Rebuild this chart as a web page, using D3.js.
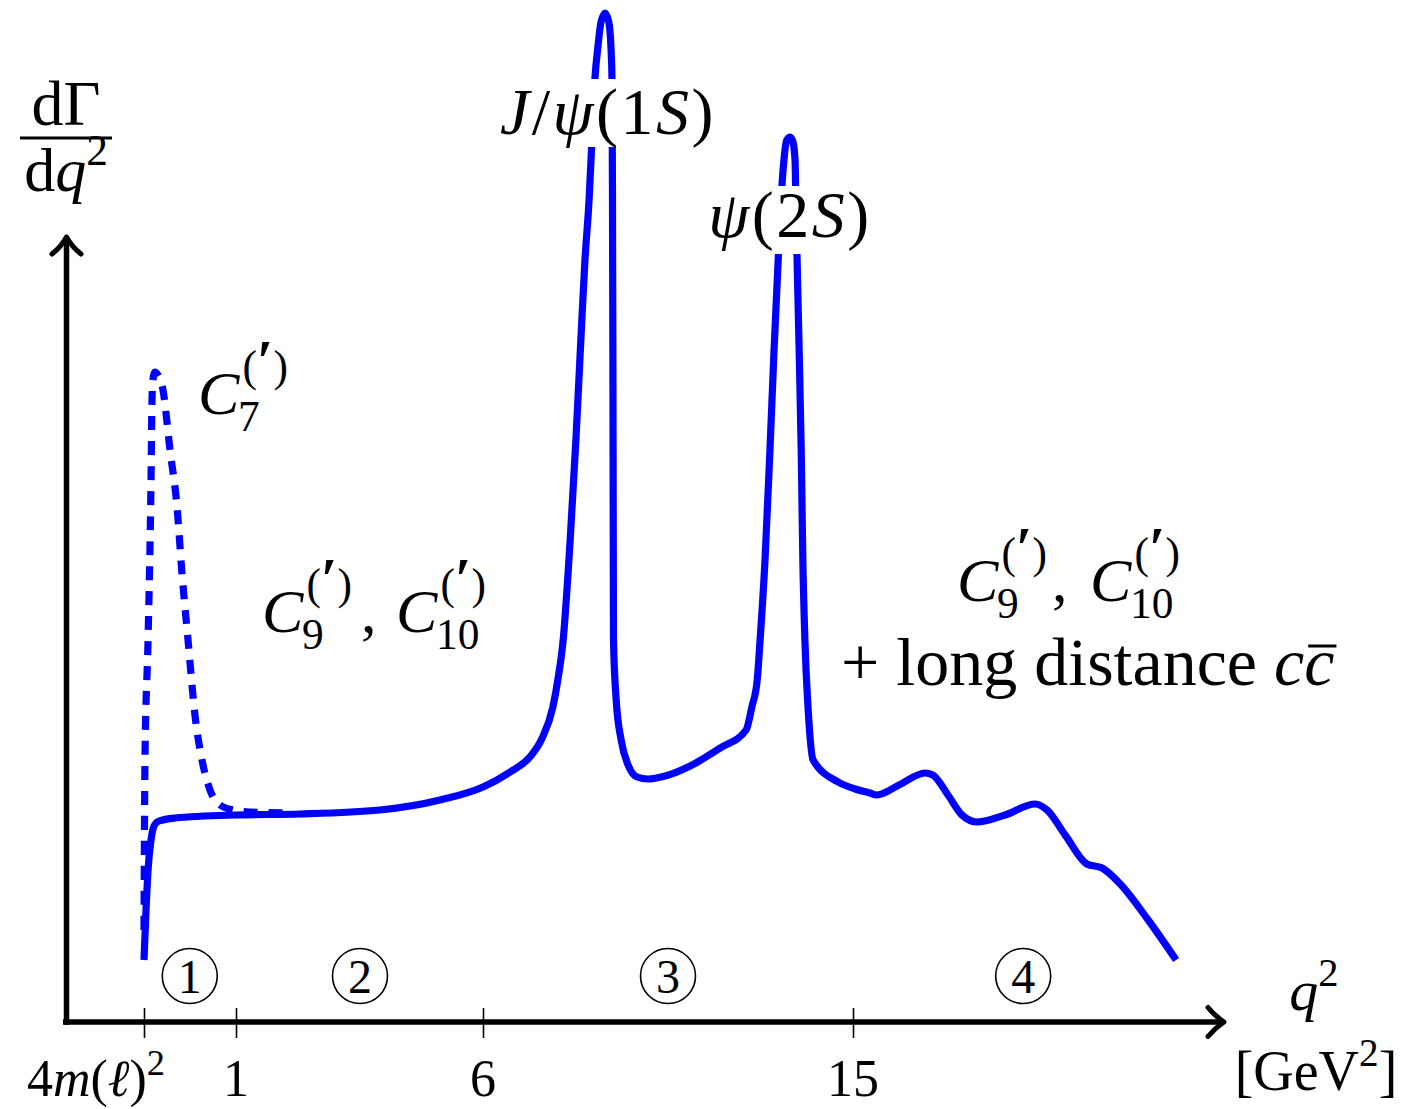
<!DOCTYPE html>
<html>
<head>
<meta charset="utf-8">
<script src="https://cdn.jsdelivr.net/npm/d3@7"></script>
<style>
  body { margin: 0; background: #fff; }
  text { font-family: "Liberation Serif", "Times New Roman", serif; fill: #000; }
</style>
</head>
<body>
<svg id="chart" width="1411" height="1109"></svg>
<script>
// q² tick marks (GeV²) and their labels
const tickValues = [0.045, 1, 6, 15];
const tickLabels = ["4m(ℓ)²", "1", "6", "15"];

// Full differential rate dΓ/dq² (arbitrary units) including the charmonium resonances
const solidQ2 = [0.045, 0.066, 0.087, 0.118, 0.149, 0.200, 0.367, 1.0, 2.30, 3.91, 5.13, 6.0, 6.66, 7.14,
  7.44, 7.70, 7.82, 7.95, 8.12, 8.26, 8.38, 8.48, 8.58, 8.65, 8.72, 8.80, 8.87, 8.97, 9.06, 9.11,
  9.138, 9.150, 9.162, 9.174, 9.24, 9.36, 9.53, 9.75, 10.01, 10.43, 11.04, 11.77, 12.40,
  12.54, 12.67, 12.74, 12.86, 12.98, 13.08, 13.18, 13.25, 13.32, 13.39, 13.47, 13.54, 13.59, 13.61,
  13.64, 13.69, 13.74, 13.78, 13.83, 13.91, 14.03,
  14.64, 15.05, 15.41, 15.58, 16.12, 16.75, 16.94, 17.31, 17.65, 18.02, 18.70, 19.43, 19.72,
  20.16, 20.69, 21.06, 21.50, 22.18, 22.86];
const solidRate = [6.2, 11.2, 15.2, 18.2, 19.6, 20.1, 20.4, 20.7, 20.8, 21.2, 22.2, 23.5, 25.0, 26.5,
  28.4, 31.5, 34.2, 38.2, 48.2, 58.2, 68.2, 76.2, 82.2, 88.2, 94.2, 97.7, 100.0, 100.9, 100.0, 97.7,
  94.2, 82.2, 62.2, 38.2, 32.2, 28.2, 25.7, 24.5, 24.3, 24.6, 25.6, 27.4, 29.2,
  31.5, 34.2, 38.2, 46.2, 57.2, 67.2, 76.2, 82.2, 86.2, 88.2, 88.5, 88.0, 86.2, 82.2,
  76.2, 67.2, 57.2, 46.2, 38.2, 31.2, 26.2,
  24.0, 23.3, 22.9, 22.7, 23.7, 24.9, 24.7, 22.7, 20.7, 20.0, 20.7, 21.8, 21.2,
  18.7, 15.8, 15.4, 13.8, 10.2, 6.2];

// Photon-pole (C7) enhancement at very low q²
const dashedQ2 = [0.045, 0.055, 0.087, 0.118, 0.128, 0.138, 0.159, 0.190, 0.242, 0.315, 0.388, 0.439,
  0.502, 0.574, 0.647, 0.730, 0.834, 0.969, 1.283, 1.992];
const dashedRate = [9.2, 26.2, 38.2, 54.2, 62.2, 64.2, 65.0, 64.7, 63.2, 57.2, 51.5, 44.9,
  38.2, 30.7, 26.2, 23.2, 21.7, 21.2, 21.0, 20.9];

// Numbered q² regions
const regionNames = ["1", "2", "3", "4"];
const regionQ2 = [0.52, 3.51, 10.5, 19.14];

const svg = d3.select("#chart");
const blue = "#0000ff";

const x = d3.scaleLinear().domain(tickValues).range([144, 236, 483, 853]);
const y = d3.scaleLinear().domain([0, 100]).range([1022, 22]);

const line = d3.line().x(d => x(d[0])).y(d => y(d[1])).curve(d3.curveMonotoneX);

// ---- curves ----
svg.append("path")
  .datum(dashedQ2.map((q, i) => [q, dashedRate[i]]))
  .attr("d", line)
  .attr("fill", "none").attr("stroke", blue).attr("stroke-width", 7.2)
  .attr("stroke-dasharray", "14,11");

svg.append("path")
  .datum(solidQ2.map((q, i) => [q, solidRate[i]]))
  .attr("d", line)
  .attr("fill", "none").attr("stroke", blue).attr("stroke-width", 7.2)
  .attr("stroke-linejoin", "round");

// ---- axes ----
const axisY = y(0);
const gx = svg.append("g").attr("transform", `translate(0,${axisY})`)
  .call(d3.axisBottom(x).tickValues(tickValues).tickSizeInner(16).tickSizeOuter(0).tickFormat(() => ""));
gx.select(".domain").remove();
gx.selectAll(".tick line").attr("y1", -14).attr("stroke", "#000").attr("stroke-width", 1.6);

svg.append("line").attr("x1", 63).attr("x2", 1220).attr("y1", axisY).attr("y2", axisY)
  .attr("stroke", "#000").attr("stroke-width", 5.5);
svg.append("line").attr("x1", 66.5).attr("x2", 66.5).attr("y1", axisY + 2.75).attr("y2", 240)
  .attr("stroke", "#000").attr("stroke-width", 5.5);
// arrow heads
svg.append("path").attr("d", "M52,254 Q61,247 66.5,237 Q72,247 81,254")
  .attr("fill", "none").attr("stroke", "#000").attr("stroke-width", 5).attr("stroke-linecap", "round").attr("stroke-linejoin", "round");
svg.append("path").attr("d", `M1208,${axisY - 14.5} Q1215,${axisY - 6} 1224,${axisY} Q1215,${axisY + 6} 1208,${axisY + 14.5}`)
  .attr("fill", "none").attr("stroke", "#000").attr("stroke-width", 5).attr("stroke-linecap", "round").attr("stroke-linejoin", "round");

// ---- helpers for math-like text ----
function mtext(parent, px, py, size, parts, anchor, spacing) {
  const t = parent.append("text").attr("x", px).attr("y", py).attr("font-size", size)
    .attr("text-anchor", anchor || "start");
  if (spacing) t.attr("letter-spacing", spacing);
  parts.forEach(p => {
    const s = t.append("tspan").text(p.t);
    if (p.i) s.attr("font-style", "italic");
    if (p.s) s.attr("font-size", size * p.s);
    if (p.dy) s.attr("dy", p.dy * size);
    if (p.b) s.attr("font-weight", "bold");
  });
  return t;
}
// C with a subscript index and a "(′)" superscript stacked above it
function cTerm(parent, px, py, size, sub) {
  const c = parent.append("text").attr("x", px).attr("y", py).attr("font-size", size)
    .attr("font-style", "italic").text("C");
  const w = c.node().getComputedTextLength();
  const ss = 0.7 * size;
  const sup = parent.append("text").attr("x", px + w + 0.05 * size).attr("y", py - 0.53 * size)
    .attr("font-size", ss);
  sup.append("tspan").text("(");
  sup.append("tspan").text("′").attr("font-size", ss * 1.35).attr("font-weight", "bold");
  sup.append("tspan").text(")");
  parent.append("text").attr("x", px + w - 0.02 * size).attr("y", py + 0.27 * size)
    .attr("font-size", ss).text(sub);
}

// ---- tick labels ----
const tickY = 1096;
mtext(svg, 96, tickY, 52, [{t: "4"}, {t: "m", i: 1}, {t: "("}, {t: "ℓ", i: 1}, {t: ")"},
  {t: "2", s: 0.7, dy: -0.4}], "middle");
tickValues.slice(1).forEach((v, i) => {
  mtext(svg, x(v), tickY, 52, [{t: tickLabels[i + 1]}], "middle");
});

// axis titles
mtext(svg, 1314, 1010, 58, [{t: "q", i: 1}, {t: "2", s: 0.7, dy: -0.42}], "middle");
mtext(svg, 1316, 1090, 56, [{t: "[GeV"}, {t: "2", s: 0.7, dy: -0.42}, {t: "]", dy: 0.42}], "middle");

mtext(svg, 66, 125, 64, [{t: "dΓ"}], "middle");
svg.append("line").attr("x1", 20).attr("x2", 112).attr("y1", 138).attr("y2", 138)
  .attr("stroke", "#000").attr("stroke-width", 3);
mtext(svg, 66, 191, 62, [{t: "d"}, {t: "q", i: 1}, {t: "2", s: 0.7, dy: -0.42}], "middle");

// ---- region markers ----
regionNames.forEach((n, i) => {
  const cx = x(regionQ2[i]);
  svg.append("circle").attr("cx", cx).attr("cy", 976).attr("r", 27.5)
    .attr("fill", "none").attr("stroke", "#000").attr("stroke-width", 1.6);
  mtext(svg, cx, 993, 48, [{t: n}], "middle");
});

// ---- resonance labels (on white boxes) ----
svg.append("rect").attr("x", 493).attr("y", 79).attr("width", 230).attr("height", 68).attr("fill", "#fff");
mtext(svg, 608, 134, 66, [{t: "J", i: 1}, {t: "/"}, {t: "ψ", i: 1}, {t: "(1"}, {t: "S", i: 1}, {t: ")"}], "middle", 2.5);

svg.append("rect").attr("x", 708).attr("y", 186).attr("width", 162).attr("height", 68).attr("fill", "#fff");
mtext(svg, 790, 237, 66, [{t: "ψ", i: 1}, {t: "(2"}, {t: "S", i: 1}, {t: ")"}], "middle", 2.5);

// ---- Wilson coefficient labels ----
cTerm(svg, 198, 414, 62, "7");

cTerm(svg, 262, 632, 62, "9");
mtext(svg, 361, 632, 62, [{t: ","}]);
cTerm(svg, 396, 632, 62, "10");

cTerm(svg, 957, 601, 62, "9");
mtext(svg, 1052, 601, 62, [{t: ","}]);
cTerm(svg, 1090, 601, 62, "10");

const ld = mtext(svg, 841, 685, 68, [{t: "+ long distance "}, {t: "cc", i: 1}]);
const n = ld.node().getNumberOfChars();
const ext = ld.node().getExtentOfChar(n - 1);
svg.append("line").attr("x1", ext.x + 4).attr("x2", ext.x + ext.width + 2)
  .attr("y1", 646).attr("y2", 646).attr("stroke", "#000").attr("stroke-width", 3);
</script>
</body>
</html>
